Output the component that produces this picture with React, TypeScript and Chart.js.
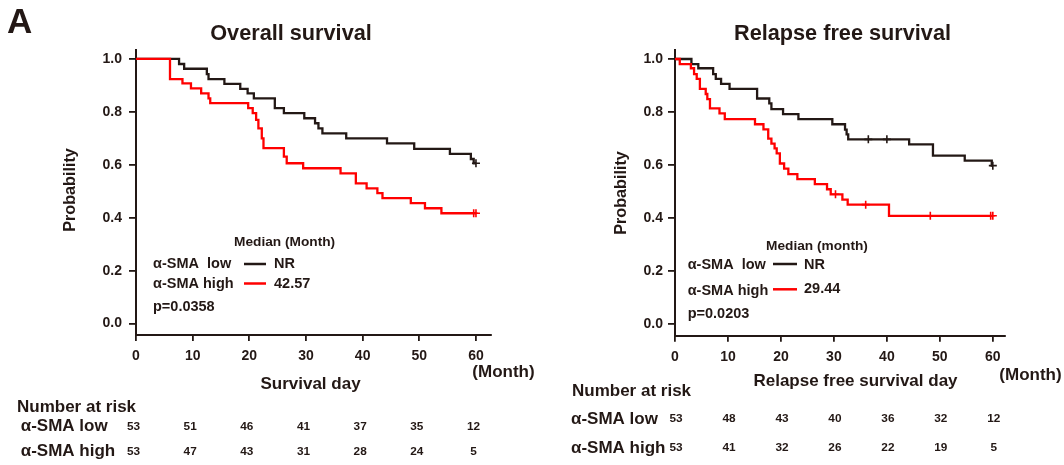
import React, { useEffect, useRef } from "react";
import { Chart, registerables } from "chart.js";

Chart.register(...registerables);

const INK = "#231815";
const RED = "#ff0000";
const FONT = '"Liberation Sans", Arial, Helvetica, sans-serif';

// ---------- data ----------
const monthTicks = [0, 10, 20, 30, 40, 50, 60];
const probTicks = [0, 0.2, 0.4, 0.6, 0.8, 1.0];

// Overall survival, α-SMA low
const osLowTimes = [0, 7.6, 8.5, 12.5, 12.8, 15.6, 18.4, 19.7, 20.8, 24.5, 26.1, 29.7, 31.6, 32.2, 32.9, 37.1, 44.3, 49.1, 55.4, 59.1, 59.6, 60];
const osLowSurv = [1, 0.981, 0.963, 0.943, 0.924, 0.906, 0.887, 0.87, 0.851, 0.814, 0.795, 0.776, 0.757, 0.738, 0.719, 0.7, 0.681, 0.66, 0.641, 0.622, 0.606, 0.606];
const osLowCensor = [60];

// Overall survival, α-SMA high
const osHighTimes = [0, 6.0, 8.2, 9.7, 11.5, 12.8, 13.1, 19.8, 20.6, 21.2, 21.6, 22.2, 22.5, 26.1, 26.6, 29.5, 36.1, 38.8, 40.7, 42.6, 43.5, 48.5, 51.0, 53.9, 60];
const osHighSurv = [1, 0.924, 0.908, 0.889, 0.87, 0.851, 0.833, 0.814, 0.795, 0.77, 0.738, 0.7, 0.663, 0.631, 0.606, 0.587, 0.568, 0.53, 0.511, 0.493, 0.474, 0.455, 0.436, 0.417, 0.417];
const osHighCensor = [59.6, 60];

// Relapse free survival, α-SMA low
const rfsLowTimes = [0, 3.1, 4.4, 7.2, 7.7, 8.7, 10.3, 15.5, 17.8, 18.2, 20.4, 23.3, 29.7, 32.1, 32.4, 32.7, 44.2, 48.7, 54.7, 59.8, 60];
const rfsLowSurv = [1, 0.981, 0.965, 0.943, 0.925, 0.906, 0.887, 0.851, 0.833, 0.811, 0.792, 0.773, 0.754, 0.734, 0.716, 0.697, 0.678, 0.636, 0.617, 0.598, 0.598];
const rfsLowCensor = [36.5, 40.0, 60];

// Relapse free survival, α-SMA high
const rfsHighTimes = [0, 0.9, 3.0, 3.6, 4.1, 4.7, 5.8, 6.1, 6.6, 8.4, 9.4, 15.1, 16.7, 17.6, 18.2, 18.8, 19.2, 19.8, 20.6, 21.4, 23.1, 26.4, 28.7, 29.4, 31.6, 32.6, 40.4, 60];
const rfsHighSurv = [1, 0.981, 0.965, 0.943, 0.925, 0.887, 0.868, 0.849, 0.814, 0.795, 0.773, 0.754, 0.735, 0.7, 0.681, 0.663, 0.644, 0.606, 0.587, 0.566, 0.547, 0.528, 0.509, 0.49, 0.47, 0.451, 0.409, 0.409];
const rfsHighCensor = [30.3, 36.0, 48.2, 59.6, 60];

// Number at risk
const riskTimes = [0, 10, 20, 30, 40, 50, 60];
const osRiskLow = [53, 51, 46, 41, 37, 35, 12];
const osRiskHigh = [53, 47, 43, 31, 28, 24, 5];
const rfsRiskLow = [53, 48, 43, 40, 36, 32, 12];
const rfsRiskHigh = [53, 41, 32, 26, 22, 19, 5];

const legendLabels = ["α-SMA  low", "α-SMA high"];
const riskLabels = ["α-SMA low", "α-SMA high"];
const osMedians = ["NR", "42.57"];
const rfsMedians = ["NR", "29.44"];

// ---------- helpers ----------
function survAt(times: number[], surv: number[], t: number) {
  let s = surv[0];
  for (let i = 0; i < times.length; i++) if (times[i] <= t) s = surv[i];
  return s;
}
function curve(times: number[], surv: number[]) {
  return times.map((t, i) => ({ x: t, y: surv[i] }));
}
function marks(times: number[], surv: number[], cens: number[]) {
  return cens.map((t) => ({ x: t, y: survAt(times, surv, t) }));
}

type Panel = {
  offset: number;
  width: number;
  areaLeft: number;
  areaRight: number;
  axisBottom: number;
  xMax: number;
  yTickPad: number;
  showA: boolean;
  title: string;
  titleX: number;
  titleY: number;
  ylabelX: number;
  ylabelY: number;
  xlabel: string;
  xlabelX: number;
  xlabelY: number;
  monthX: number;
  monthY: number;
  medianTitle: string;
  medianX: number;
  medianY: number;
  legX: number;
  legY: number[];
  lineX: [number, number];
  lineY: number[];
  valX: number;
  valY: number[];
  medians: string[];
  pText: string;
  pX: number;
  pY: number;
  riskHeadX: number;
  riskHeadY: number;
  riskLabX: number;
  riskY: number[];
  riskShift: number;
  riskLow: number[];
  riskHigh: number[];
  low: { t: number[]; s: number[]; c: number[] };
  high: { t: number[]; s: number[]; c: number[] };
};

const panels: Panel[] = [
  {
    offset: 0,
    width: 540,
    areaLeft: 136,
    areaRight: 490.7,
    axisBottom: 335,
    xMax: 62.6,
    yTickPad: 7,
    showA: true,
    title: "Overall survival",
    titleX: 291,
    titleY: 39.5,
    ylabelX: 70.5,
    ylabelY: 190,
    xlabel: "Survival day",
    xlabelX: 310.5,
    xlabelY: 384,
    monthX: 503.5,
    monthY: 372,
    medianTitle: "Median (Month)",
    medianX: 234,
    medianY: 242.7,
    legX: 153,
    legY: [264, 283.5],
    lineX: [244, 266],
    lineY: [264, 283.5],
    valX: 274,
    valY: [264, 283.5],
    medians: osMedians,
    pText: "p=0.0358",
    pX: 153,
    pY: 307,
    riskHeadX: 17,
    riskHeadY: 407.7,
    riskLabX: 20.7,
    riskY: [426.7, 451.7],
    riskShift: -2.5,
    riskLow: osRiskLow,
    riskHigh: osRiskHigh,
    low: { t: osLowTimes, s: osLowSurv, c: osLowCensor },
    high: { t: osHighTimes, s: osHighSurv, c: osHighCensor },
  },
  {
    offset: 540,
    width: 524,
    areaLeft: 675,
    areaRight: 1005,
    axisBottom: 335.7,
    xMax: 62.3,
    yTickPad: 5,
    showA: false,
    title: "Relapse free survival",
    titleX: 842.5,
    titleY: 40,
    ylabelX: 622,
    ylabelY: 193,
    xlabel: "Relapse free survival day",
    xlabelX: 855.5,
    xlabelY: 381,
    monthX: 1030.5,
    monthY: 375,
    medianTitle: "Median (month)",
    medianX: 766,
    medianY: 246.7,
    legX: 687.7,
    legY: [265, 290.7],
    lineX: [773, 797],
    lineY: [264, 289.3],
    valX: 804,
    valY: [265, 289],
    medians: rfsMedians,
    pText: "p=0.0203",
    pX: 687.7,
    pY: 314,
    riskHeadX: 572,
    riskHeadY: 391,
    riskLabX: 571,
    riskY: [419, 448],
    riskShift: 1,
    riskLow: rfsRiskLow,
    riskHigh: rfsRiskHigh,
    low: { t: rfsLowTimes, s: rfsLowSurv, c: rfsLowCensor },
    high: { t: rfsHighTimes, s: rfsHighSurv, c: rfsHighCensor },
  },
];

const H = 465;
const Y_MIN = -0.043;
const Y_MAX = 1.035;
const AREA_TOP = 49.7;

function KMPanel({ p }: { p: Panel }) {
  const ref = useRef<HTMLCanvasElement>(null);
  useEffect(() => {
    const canvas = ref.current!;
    const off = p.offset;
    const text = (
      ctx: CanvasRenderingContext2D,
      s: string,
      x: number,
      y: number,
      size: number,
      align: CanvasTextAlign = "left",
      baseline: CanvasTextBaseline = "middle",
      rotate = 0
    ) => {
      ctx.save();
      ctx.font = `bold ${size}px ${FONT}`;
      ctx.fillStyle = INK;
      ctx.textAlign = align;
      ctx.textBaseline = baseline;
      ctx.translate(x - off, y);
      if (rotate) ctx.rotate(rotate);
      ctx.fillText(s, 0, 0);
      ctx.restore();
    };
    const textPlugin = {
      id: "kmText",
      afterDraw(chart: any) {
        const ctx: CanvasRenderingContext2D = chart.ctx;
        const xs = chart.scales.x;
        if (p.showA) text(ctx, "A", 7, 33, 35, "left", "alphabetic");
        text(ctx, p.title, p.titleX, p.titleY, 21.7, "center", "alphabetic");
        text(ctx, "Probability", p.ylabelX, p.ylabelY, 16.2, "center", "middle", -Math.PI / 2);
        text(ctx, p.xlabel, p.xlabelX, p.xlabelY, 17, "center");
        text(ctx, "(Month)", p.monthX, p.monthY, 17, "center");
        // legend block
        text(ctx, p.medianTitle, p.medianX, p.medianY, 13.7, "left");
        const cols = [INK, RED];
        for (let i = 0; i < 2; i++) {
          text(ctx, legendLabels[i], p.legX, p.legY[i], 14.5, "left");
          ctx.save();
          ctx.strokeStyle = cols[i];
          ctx.lineWidth = 2.5;
          ctx.beginPath();
          ctx.moveTo(p.lineX[0] - off, p.lineY[i]);
          ctx.lineTo(p.lineX[1] - off, p.lineY[i]);
          ctx.stroke();
          ctx.restore();
          text(ctx, p.medians[i], p.valX, p.valY[i], 14.5, "left");
        }
        text(ctx, p.pText, p.pX, p.pY, 14.5, "left");
        // risk table
        text(ctx, "Number at risk", p.riskHeadX, p.riskHeadY, 17, "left");
        const rows = [p.riskLow, p.riskHigh];
        for (let r = 0; r < 2; r++) {
          text(ctx, riskLabels[r], p.riskLabX, p.riskY[r], 17, "left");
          rows[r].forEach((n, i) => {
            const px = xs.getPixelForValue(riskTimes[i]) + p.riskShift + off;
            text(ctx, String(n), px, p.riskY[r], 11.8, "center");
          });
        }
      },
    };

    const tickFont = { family: FONT, size: 14, weight: "bold" as const };
    const chart = new Chart(canvas, {
      type: "line",
      data: {
        datasets: [
          {
            label: "α-SMA high",
            data: curve(p.high.t, p.high.s),
            borderColor: RED,
            borderWidth: 2.3,
            pointRadius: 0,
            stepped: true,
            fill: false,
          },
          {
            label: "α-SMA low",
            data: curve(p.low.t, p.low.s),
            borderColor: INK,
            borderWidth: 2.3,
            pointRadius: 0,
            stepped: true,
            fill: false,
          },
          {
            label: "high censored",
            data: marks(p.high.t, p.high.s, p.high.c),
            showLine: false,
            pointStyle: "cross",
            pointRadius: 4,
            pointBorderWidth: 1.6,
            borderColor: RED,
            backgroundColor: RED,
          },
          {
            label: "low censored",
            data: marks(p.low.t, p.low.s, p.low.c),
            showLine: false,
            pointStyle: "cross",
            pointRadius: 4,
            pointBorderWidth: 1.6,
            borderColor: INK,
            backgroundColor: INK,
          },
        ],
      },
      options: {
        responsive: false,
        animation: false,
        events: [],
        layout: {
          padding: { left: 0, top: AREA_TOP, right: p.width - (p.areaRight - off), bottom: 0 },
        },
        plugins: {
          legend: { display: false },
          title: { display: false },
          tooltip: { enabled: false },
        },
        scales: {
          x: {
            type: "linear",
            min: 0,
            max: p.xMax,
            afterFit: (s: any) => {
              s.height = H - p.axisBottom;
            },
            afterBuildTicks: (s: any) => {
              s.ticks = monthTicks.map((v) => ({ value: v }));
            },
            ticks: {
              color: INK,
              font: tickFont,
              padding: 7,
              maxRotation: 0,
              autoSkip: false,
              callback: (v: any) => String(v),
            },
            grid: {
              display: true,
              drawOnChartArea: false,
              drawTicks: true,
              tickLength: 6,
              color: INK,
              lineWidth: 1.8,
            },
            border: { display: true, color: INK, width: 2 },
          },
          y: {
            type: "linear",
            min: Y_MIN,
            max: Y_MAX,
            afterFit: (s: any) => {
              s.width = p.areaLeft - off;
            },
            afterBuildTicks: (s: any) => {
              s.ticks = probTicks.map((v) => ({ value: v }));
            },
            ticks: {
              color: INK,
              font: tickFont,
              padding: p.yTickPad,
              callback: (v: any) => Number(v).toFixed(1),
            },
            grid: {
              display: true,
              drawOnChartArea: false,
              drawTicks: true,
              tickLength: 7,
              color: INK,
              lineWidth: 1.8,
            },
            border: { display: true, color: INK, width: 2 },
          },
        },
      },
      plugins: [textPlugin],
    } as any);
    return () => chart.destroy();
  }, [p]);
  return (
    <canvas
      ref={ref}
      width={p.width}
      height={H}
      style={{ position: "absolute", left: p.offset, top: 0, width: p.width, height: H }}
    />
  );
}

export default function App() {
  return (
    <div
      style={{
        position: "absolute",
        left: 0,
        top: 0,
        width: 1064,
        height: H,
        background: "#ffffff",
        overflow: "hidden",
      }}
    >
      {panels.map((p) => (
        <KMPanel key={p.offset} p={p} />
      ))}
    </div>
  );
}
